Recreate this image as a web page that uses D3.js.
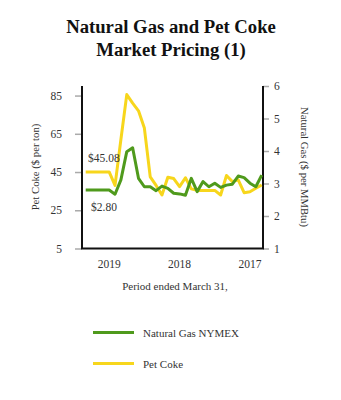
<!DOCTYPE html>
<html><head><meta charset="utf-8">
<script src="https://cdn.jsdelivr.net/npm/d3@7"></script>
<style>
body{margin:0;background:#fff;}
</style></head>
<body><svg id="c" width="341" height="400"></svg>
<script>
// Monthly periods, latest first (left) to earliest (right)
const periods = d3.range(31).map(i => "m" + i);
const naturalGas = [2.80,2.80,2.80,2.80,2.80,2.67,3.11,3.98,4.10,3.16,2.90,2.90,2.78,2.92,2.85,2.70,2.68,2.64,3.16,2.75,3.06,2.90,3.01,2.88,2.95,2.98,3.23,3.18,3.01,2.90,3.26];
const petCoke = [45.08,45.08,45.08,45.08,45.08,38,62,85.5,81,77,68,42.5,38,33,42.3,41.6,37.4,42,36.2,35.4,35.4,35.4,35.4,33,43.2,40,40.9,34.2,34.7,36.5,38.2];
const yearLabels = ["2019","2018","2017"];
const yearIndex = [4,16,28];
const leftTicks = [5,25,45,65,85];
const rightTicks = [1,2,3,4,5,6];
const seriesNames = ["Natural Gas NYMEX","Pet Coke"];
const seriesColors = ["#4f9a1c","#f7d61c"];

const FONT = "'Liberation Serif','Times New Roman',Times,serif";
const svg = d3.select("#c");
const L = 82, R = 263, T = 86, B = 248.5;

const x = d3.scalePoint().domain(periods).range([85.7, 261.7]);
const yL = d3.scaleLinear().domain([5, 90]).range([B, T]);
const yR = d3.scaleLinear().domain([1, 6]).range([B, T]);

// Title
const title = svg.append("text").attr("text-anchor","middle").attr("font-weight","bold")
  .style("font-family",FONT).attr("font-size",18.7).attr("fill","#111");
title.append("tspan").attr("x",171).attr("y",33).text("Natural Gas and Pet Coke");
title.append("tspan").attr("x",171).attr("y",56).text("Market Pricing (1)");

// Left axis
const axL = svg.append("g").attr("transform",`translate(${L},0)`)
  .call(d3.axisLeft(yL).tickValues(leftTicks).tickFormat(d3.format("d")).tickSize(7).tickPadding(13));
axL.select(".domain").remove();
axL.selectAll(".tick line").attr("stroke","#aaa").attr("stroke-width",1.5);
axL.selectAll(".tick text").attr("font-size",11.5).attr("fill","#333").style("font-family",FONT);

// Right axis
const axR = svg.append("g").attr("transform",`translate(${R},0)`)
  .call(d3.axisRight(yR).tickValues(rightTicks).tickFormat(d3.format("d")).tickSize(6).tickPadding(5));
axR.select(".domain").remove();
axR.selectAll(".tick line").attr("stroke","#aaa").attr("stroke-width",1.5);
axR.selectAll(".tick text").attr("font-size",11.5).attr("fill","#333").style("font-family",FONT);

// Frame lines (left, bottom, right)
svg.append("path").attr("d",`M${L},${T}V${B}H${R}V${T}`)
  .attr("fill","none").attr("stroke","#111").attr("stroke-width",2);

// X labels
svg.append("g").selectAll("text").data(yearLabels).join("text")
  .attr("x",(d,i)=>x(periods[yearIndex[i]])).attr("y",268)
  .attr("text-anchor","middle").attr("font-size",11.5).attr("fill","#333")
  .style("font-family",FONT).text(d=>d);

svg.append("text").attr("x",175).attr("y",290).attr("text-anchor","middle")
  .attr("font-size",11).attr("fill","#333").style("font-family",FONT).text("Period ended March 31,");

// Axis titles
svg.append("text").attr("transform",`translate(39,167) rotate(-90)`).attr("text-anchor","middle")
  .attr("font-size",10.7).attr("fill","#333").style("font-family",FONT).text("Pet Coke ($ per ton)");
svg.append("text").attr("transform",`translate(301,167) rotate(90)`).attr("text-anchor","middle")
  .attr("font-size",10.7).attr("fill","#333").style("font-family",FONT).text("Natural Gas ($ per MMBtu)");

// Lines
const lineL = d3.line().x((d,i)=>x(periods[i])).y(d=>yL(d));
const lineR = d3.line().x((d,i)=>x(periods[i])).y(d=>yR(d));
svg.append("path").datum(petCoke).attr("d",lineL).attr("fill","none")
  .attr("stroke",seriesColors[1]).attr("stroke-width",3).attr("stroke-linejoin","round");
svg.append("path").datum(naturalGas).attr("d",lineR).attr("fill","none")
  .attr("stroke",seriesColors[0]).attr("stroke-width",3).attr("stroke-linejoin","round");

// Annotations
svg.append("text").attr("x",88).attr("y",162).attr("font-size",11.5).attr("fill","#333")
  .style("font-family",FONT).text("$" + petCoke[0].toFixed(2));
svg.append("text").attr("x",91).attr("y",211).attr("font-size",11.5).attr("fill","#333")
  .style("font-family",FONT).text("$" + naturalGas[0].toFixed(2));

// Legend
const lg = svg.append("g");
seriesNames.forEach((n,i)=>{
  const yy = 332.5 + i*31;
  lg.append("line").attr("x1",93).attr("x2",134).attr("y1",yy).attr("y2",yy)
    .attr("stroke",seriesColors[i]).attr("stroke-width",3);
  lg.append("text").attr("x",143).attr("y",yy+4).attr("font-size",11).attr("fill","#333")
    .style("font-family",FONT).text(n);
});
</script></body></html>
